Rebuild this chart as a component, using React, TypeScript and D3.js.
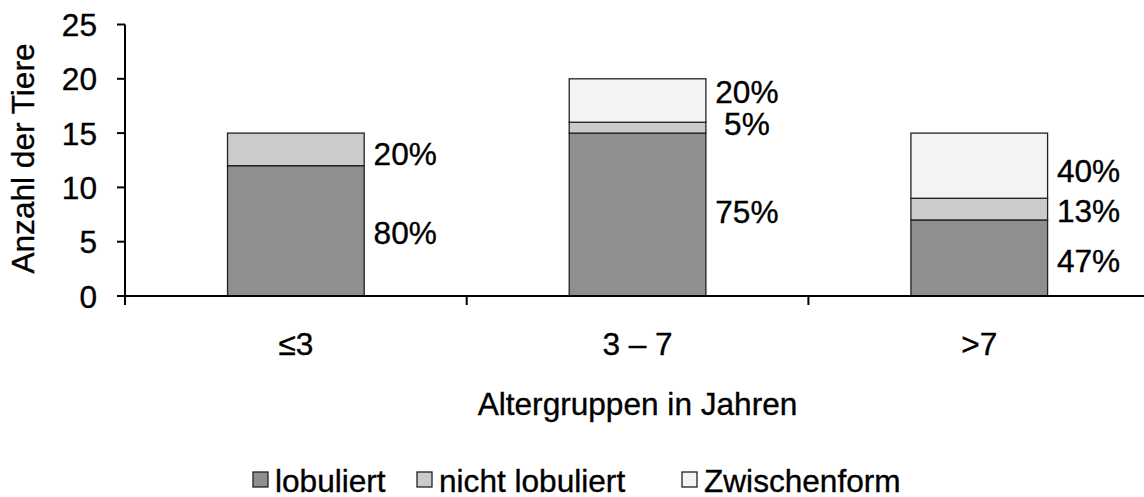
import React from "react";
import * as d3 from "d3";

const categories = ["≤3", "3 – 7", ">7"];
const seriesNames = ["lobuliert", "nicht lobuliert", "Zwischenform"];
const lobuliert = [12, 15, 7];
const nichtLobuliert = [3, 1, 2];
const zwischenform = [0, 4, 6];
const yTicks = [0, 5, 10, 15, 20, 25];

const colors = ["#8f8f8f", "#cbcbcb", "#f3f3f3"];
// small manual vertical nudges (px) of the percentage labels, per category/series
const labelNudge = [
  [2.2, 4.6, 0],
  [-2.2, -3.7, -8.2],
  [2.7, 1.6, 5],
];

const W = 1144;
const H = 497;
const FONT = "'Liberation Sans', Arial, Helvetica, sans-serif";
const FS = 31.6;
const TSTROKE = { stroke: "#000", strokeWidth: 0.35 };

export default function App() {
  const x0 = 125;
  const band = 341.7;
  const x = d3
    .scaleBand<string>()
    .domain(categories)
    .range([x0, x0 + band * categories.length])
    .paddingInner(0.6)
    .paddingOuter(0.3);
  const bandScale = d3.scaleBand<string>().domain(categories).range([x0, x0 + band * categories.length]);
  const y = d3.scaleLinear().domain([0, 25]).range([296, 24.5]);

  const rows = categories.map((c, i) => ({
    cat: c,
    lobuliert: lobuliert[i],
    nicht: nichtLobuliert[i],
    zwischen: zwischenform[i],
  }));
  const keys = ["lobuliert", "nicht", "zwischen"];
  const stacked = d3.stack<any>().keys(keys)(rows);

  const bw = x.bandwidth();

  const legendX = [253, 417, 682];

  return (
    <svg
      width={W}
      height={H}
      style={{ position: "absolute", left: 0, top: 0, background: "#fff" }}
      fontFamily={FONT}
    >
      {/* bars */}
      {stacked.map((layer, si) =>
        layer.map((d, ci) => {
          const v = d[1] - d[0];
          if (v <= 0) return null;
          return (
            <rect
              key={`${si}-${ci}`}
              x={x(categories[ci])}
              y={y(d[1])}
              width={bw}
              height={y(d[0]) - y(d[1])}
              fill={colors[si]}
              stroke="#222"
              strokeWidth={1.3}
            />
          );
        })
      )}
      {/* percentage labels */}
      {stacked.map((layer, si) =>
        layer.map((d, ci) => {
          const v = d[1] - d[0];
          if (v <= 0) return null;
          const total = lobuliert[ci] + nichtLobuliert[ci] + zwischenform[ci];
          const pct = Math.round((v / total) * 100);
          const mid = y((d[0] + d[1]) / 2);
          return (
            <text
              key={`l-${si}-${ci}`}
              x={(x(categories[ci]) as number) + bw + 41}
              y={mid + 11 + labelNudge[ci][si]}
              textAnchor="middle"
              fontSize={FS}
              fill="#000"
              {...TSTROKE}
            >
              {pct}%
            </text>
          );
        })
      )}
      {/* y axis */}
      <line x1={x0} x2={x0} y1={y(25)} y2={305} stroke="#000" strokeWidth={2} />
      {yTicks.map((t) => (
        <g key={t}>
          <line x1={117} x2={x0} y1={y(t)} y2={y(t)} stroke="#000" strokeWidth={2} />
          <text x={97} y={y(t) + 11.5} textAnchor="end" fontSize={FS} fill="#000" {...TSTROKE}>
            {t}
          </text>
        </g>
      ))}
      {/* x axis */}
      <line x1={x0} x2={W} y1={y(0)} y2={y(0)} stroke="#000" strokeWidth={2} />
      {categories.map((c) => (
        <line
          key={`xt-${c}`}
          x1={bandScale(c) as number}
          x2={bandScale(c) as number}
          y1={y(0)}
          y2={305}
          stroke="#000"
          strokeWidth={2}
        />
      ))}
      {categories.map((c) => (
        <text
          key={`xl-${c}`}
          x={(bandScale(c) as number) + bandScale.bandwidth() / 2}
          y={355}
          textAnchor="middle"
          fontSize={FS}
          fill="#000"
          {...TSTROKE}
        >
          {c}
        </text>
      ))}
      {/* axis titles */}
      <text x={637.5} y={415} textAnchor="middle" fontSize={FS} fill="#000" {...TSTROKE}>
        Altergruppen in Jahren
      </text>
      <text
        transform={`translate(34, 158.5) rotate(-90)`}
        textAnchor="middle"
        fontSize={FS}
        fill="#000"
        {...TSTROKE}
      >
        Anzahl der Tiere
      </text>
      {/* legend */}
      {seriesNames.map((s, i) => (
        <g key={s}>
          <rect
            x={legendX[i]}
            y={472}
            width={15}
            height={15}
            fill={colors[i]}
            stroke="#222"
            strokeWidth={1.3}
          />
          <text x={legendX[i] + 22} y={492} fontSize={FS} fill="#000" {...TSTROKE}>
            {s}
          </text>
        </g>
      ))}
    </svg>
  );
}
